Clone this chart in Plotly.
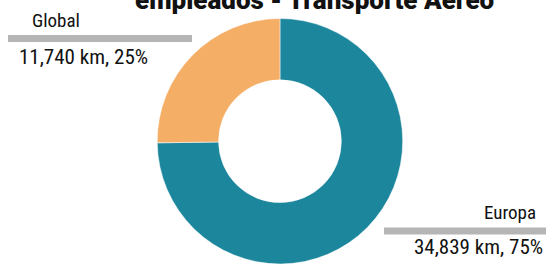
import plotly.graph_objects as go

regions = ["Europa", "Global"]
km = [34839, 11740]
pct = [75, 25]
colors = ["#1B869C", "#F5AE66"]
title_lines = ["Kilómetros recorridos por", "empleados - Transporte Aéreo"]

FONT = "Roboto Condensed, Roboto, sans-serif"

fig = go.Figure(go.Pie(
    labels=regions,
    values=km,
    hole=0.5,
    sort=False,
    direction="clockwise",
    rotation=0,
    textinfo="none",
    hoverinfo="label+value+percent",
    marker=dict(colors=colors, line=dict(color="white", width=0.5)),
    domain=dict(x=[0.2875, 0.738], y=[0.0, 0.93]),
    showlegend=False,
))

lab = {
    "Global": dict(name_x=56, bar=(8, 192), val_x=83.5, anchor="center"),
    "Europa": dict(name_x=538, bar=(384, 546), val_x=545, anchor="right"),
}
ys = {"Global": (20, 38.5, 57), "Europa": (212, 231, 247)}

W, H = 546, 264
for r, k, p in zip(regions, km, pct):
    cfg = lab[r]
    yn, yb, yv = ys[r]
    fig.add_annotation(x=cfg["name_x"] / W, y=1 - yn / H, xref="paper", yref="paper",
                       text=r, showarrow=False, xanchor=cfg["anchor"], yanchor="middle",
                       font=dict(family=FONT, size=19, color="#111"))
    fig.add_annotation(x=cfg["val_x"] / W, y=1 - yv / H, xref="paper", yref="paper",
                       text=f"{k:,} km, {p}%", showarrow=False, xanchor=cfg["anchor"], yanchor="middle",
                       font=dict(family=FONT, size=21, color="#111"))
    fig.add_shape(type="rect", xref="paper", yref="paper",
                  x0=cfg["bar"][0] / W, x1=cfg["bar"][1] / W,
                  y0=1 - (yb - 3.5) / H, y1=1 - (yb + 3.5) / H,
                  fillcolor="#B5B5B5", line=dict(width=0))

fig.add_annotation(x=314 / W, y=1 - 17 / H, xref="paper", yref="paper",
                   text="<br>".join(title_lines),
                   showarrow=False, xanchor="center", yanchor="bottom",
                   font=dict(family="Roboto, sans-serif", size=26, color="#111", weight=900))

fig.update_layout(width=W, height=H, margin=dict(l=0, r=0, t=0, b=0),
                  paper_bgcolor="white", plot_bgcolor="white")
fig.write_html("out.html", post_script="document.body.style.margin='0';",
               config={"displayModeBar": False})
